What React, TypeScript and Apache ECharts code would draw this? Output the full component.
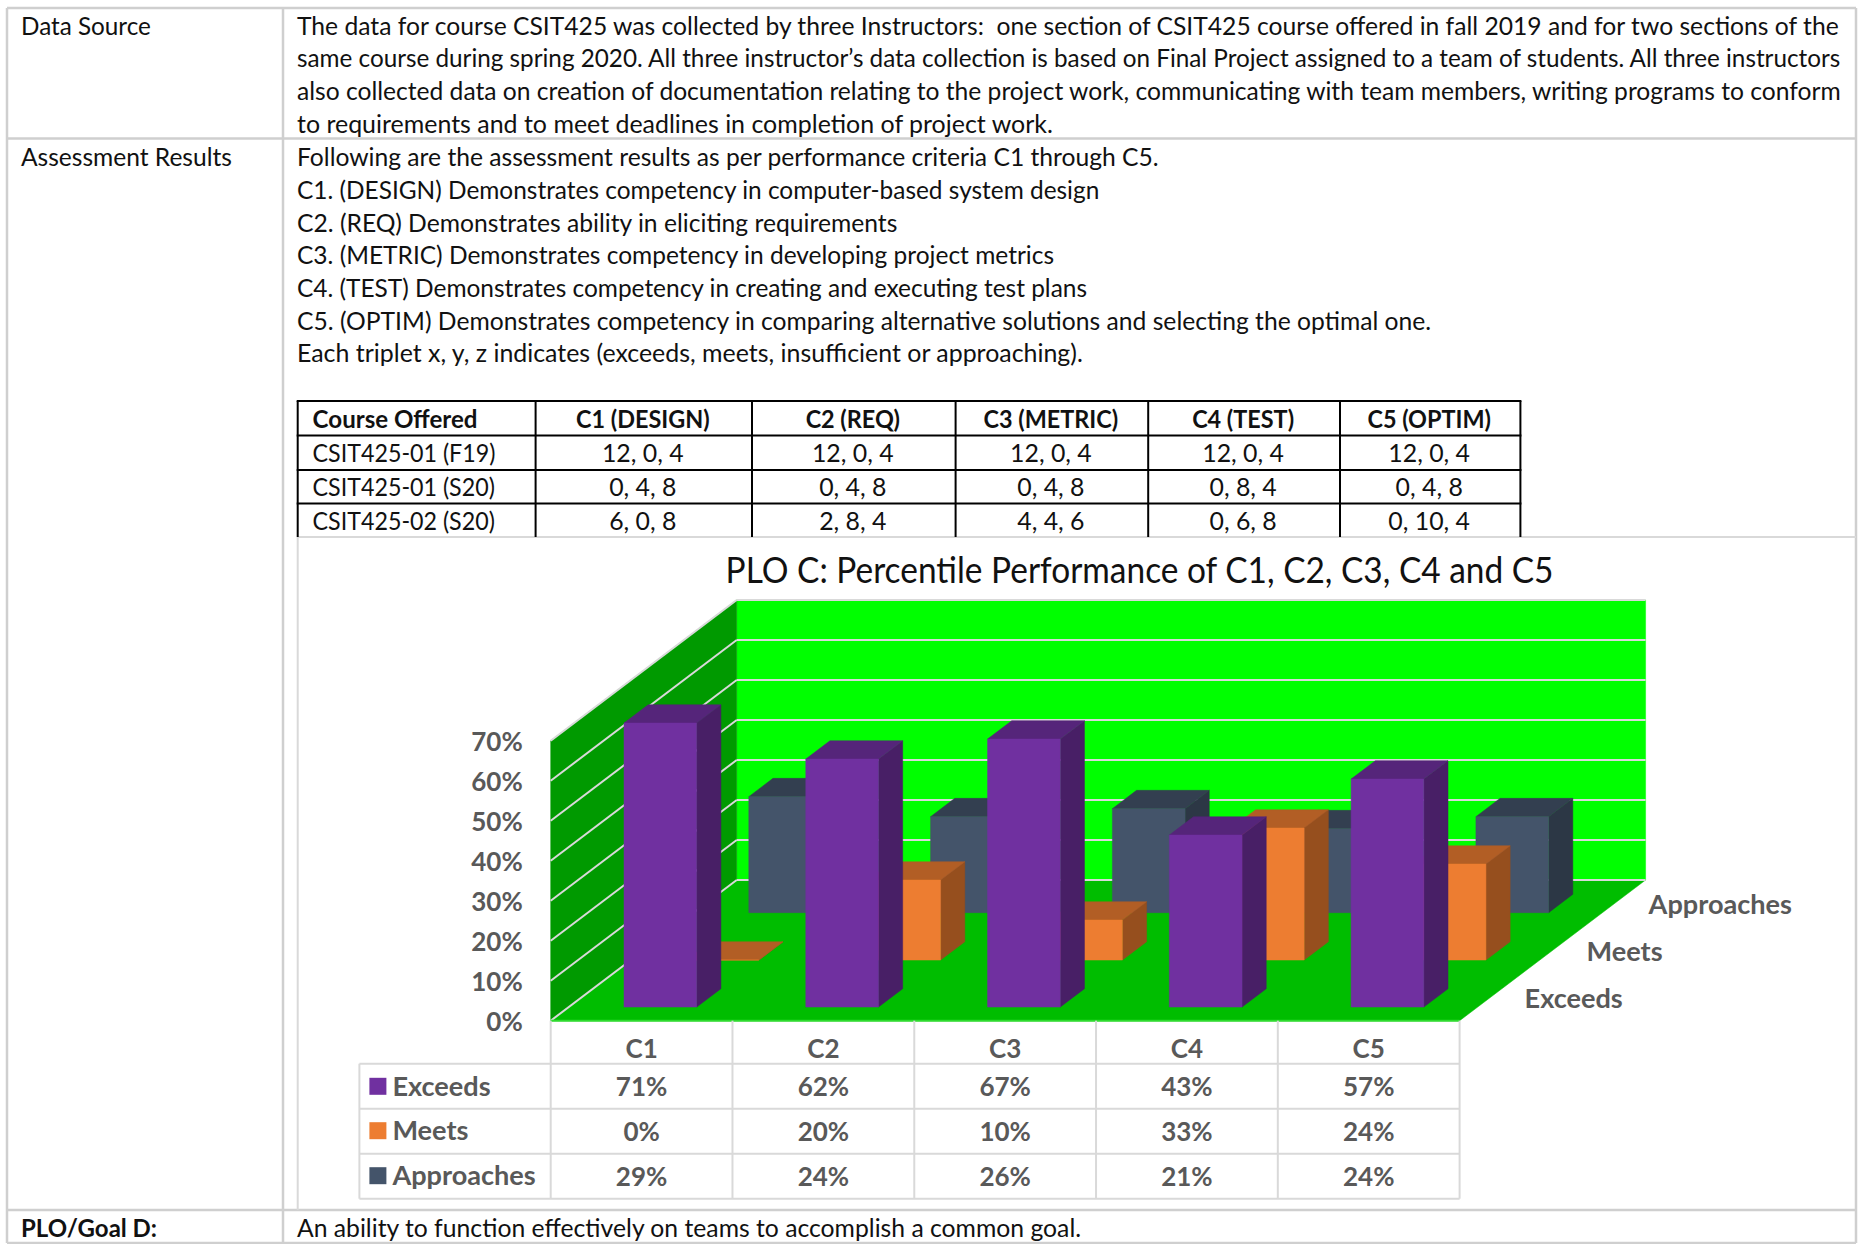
import React, { useEffect, useRef } from "react";
import * as echarts from "echarts";

// Document text around the chart
const dataSourceLabel = "Data Source";
const dataSourceLines = [
  "The data for course CSIT425 was collected by three Instructors:  one section of CSIT425 course offered in fall 2019 and for two sections of the",
  "same course during spring 2020. All three instructor\u2019s data collection is based on Final Project assigned to a team of students. All three instructors",
  "also collected data on creation of documentation relating to the project work, communicating with team members, writing programs to conform",
  "to requirements and to meet deadlines in completion of project work.",
];
const dataSourceLineEnds = [1843, 1843, 1843, 1054];
const resultsLabel = "Assessment Results";
const resultsLines = [
  "Following are the assessment results as per performance criteria C1 through C5.",
  "C1. (DESIGN) Demonstrates competency in computer-based system design",
  "C2. (REQ) Demonstrates ability in eliciting requirements",
  "C3. (METRIC) Demonstrates competency in developing project metrics",
  "C4. (TEST) Demonstrates competency in creating and executing test plans",
  "C5. (OPTIM) Demonstrates competency in comparing alternative solutions and selecting the optimal one.",
  "Each triplet x, y, z indicates (exceeds, meets, insufficient or approaching).",
];
const resultsLineEnds = [1160, 1100, 898, 1055, 1088, 1432, 1084];
const goalLabel = "PLO/Goal D:";
const goalText = "An ability to function effectively on teams to accomplish a common goal.";

// Course table
const courseHeader = ["Course Offered", "C1 (DESIGN)", "C2 (REQ)", "C3 (METRIC)", "C4 (TEST)", "C5 (OPTIM)"];
const courseF19 = ["CSIT425-01 (F19)", "12, 0, 4", "12, 0, 4", "12, 0, 4", "12, 0, 4", "12, 0, 4"];
const courseS20a = ["CSIT425-01 (S20)", "0, 4, 8", "0, 4, 8", "0, 4, 8", "0, 8, 4", "0, 4, 8"];
const courseS20b = ["CSIT425-02 (S20)", "6, 0, 8", "2, 8, 4", "4, 4, 6", "0, 6, 8", "0, 10, 4"];

// Chart data, in percent
const chartTitle = "PLO C: Percentile Performance of C1, C2, C3, C4 and C5";
const criteria = ["C1", "C2", "C3", "C4", "C5"];
const exceeds = [71, 62, 67, 43, 57];
const meets = [0, 20, 10, 33, 24];
const approaches = [29, 24, 26, 21, 24];
const yTicks = [0, 10, 20, 30, 40, 50, 60, 70];

const ratings = [
  { name: "Exceeds", values: exceeds, front: "#7030A0", top: "#55257A", side: "#481F66" },
  { name: "Meets", values: meets, front: "#ED7D31", top: "#B25E25", side: "#964F1E" },
  { name: "Approaches", values: approaches, front: "#44546A", top: "#333F50", side: "#2C3745" },
];

// Oblique projection of the 3-D box: how far the back wall sits from the front plane
const DEPTH_X = 186;
const DEPTH_Y = 140.7;
const BAR_START = 0.304;
const BAR_WIDTH = 0.4;
const BAR_DEPTH = 0.13;
const ROW_FRONT = [0.097, 0.431, 0.768];

const INK = "#111111";
const GRAY = "#595959";
const RULE = "#D9D9D9";
const BODY_FONT = "25px Lato";
const BOLD_FONT = "bold 25px Lato";
const CHART_FONT = "bold 26px Lato";
const TITLE_FONT = "36px Lato";

const measureCtx = document.createElement("canvas").getContext("2d")!;
function textWidth(text: string, font: string) {
  measureCtx.font = font;
  return measureCtx.measureText(text).width;
}

function textEl(
  text: string,
  x: number,
  y: number,
  font: string,
  fill: string,
  scaleX = 1,
  align = "left"
) {
  return {
    type: "text",
    x,
    y,
    scaleX,
    silent: true,
    style: { text, font, fill, align, verticalAlign: "middle", textAlign: align, textVerticalAlign: "middle" },
  };
}

function lineEl(x1: number, y1: number, x2: number, y2: number, stroke: string, lineWidth: number) {
  return { type: "line", silent: true, shape: { x1, y1, x2, y2 }, style: { stroke, lineWidth } };
}

function poly(points: number[][], fill: string) {
  return { type: "polygon", silent: true, shape: { points }, style: { fill, stroke: fill, lineWidth: 0.5 } };
}

function documentElements() {
  const els: any[] = [];
  const cellScale = (1083 - 297) / textWidth(resultsLines[6], BODY_FONT);
  const nameScale = 183 / textWidth(courseF19[0], BODY_FONT);
  const boldScale = 165 / textWidth(courseHeader[0], BOLD_FONT);
  const fit = (t: string, x0: number, x1: number, font = BODY_FONT) => (x1 - x0) / textWidth(t, font);

  // Outer form rules
  const border = "#CFCFCF";
  els.push(lineEl(7, 8, 1856, 8, border, 2.5));
  els.push(lineEl(7, 138.6, 1856, 138.6, border, 2.5));
  els.push(lineEl(7, 1210, 1856, 1210, border, 2.5));
  els.push(lineEl(7, 1243, 1856, 1243, border, 2.5));
  els.push(lineEl(7, 8, 7, 1243, border, 2.5));
  els.push(lineEl(283, 8, 283, 1243, border, 2.5));
  els.push(lineEl(1856, 8, 1856, 1243, border, 2.5));
  // Frame of the chart object
  els.push(lineEl(297.7, 537, 1856, 537, RULE, 2));
  els.push(lineEl(297.7, 537, 297.7, 1210, RULE, 2));

  els.push(textEl(dataSourceLabel, 21, 25, BODY_FONT, INK, fit(dataSourceLabel, 21, 151)));
  dataSourceLines.forEach((t, i) => {
    els.push(textEl(t, 297, 25 + i * 32.7, BODY_FONT, INK, fit(t, 297, dataSourceLineEnds[i])));
  });
  els.push(textEl(resultsLabel, 21, 156.4, BODY_FONT, INK, fit(resultsLabel, 21, 232)));
  resultsLines.forEach((t, i) => {
    els.push(textEl(t, 297, 156.4 + i * 32.7 - (i === 6 ? 0.6 : 0), BODY_FONT, INK, fit(t, 297, resultsLineEnds[i])));
  });

  // Course table
  const colX = [297.7, 535.6, 752, 955.6, 1148.2, 1340, 1520.4];
  const rowY = [401, 435.5, 470, 503.5];
  const tableBottom = 537;
  rowY.forEach((y) => els.push(lineEl(colX[0] - 1, y, colX[6] + 1, y, "#000000", 2)));
  colX.forEach((x) => els.push(lineEl(x, rowY[0], x, tableBottom, "#000000", 2)));
  [courseHeader, courseF19, courseS20a, courseS20b].forEach((row, r) => {
    const y = rowY[r] + (r === 0 ? 17 : 16.4);
    row.forEach((cell, c) => {
      const font = r === 0 ? BOLD_FONT : BODY_FONT;
      if (c === 0) els.push(textEl(cell, 312.6, y, font, INK, r === 0 ? boldScale : nameScale));
      else {
        const sc = r === 0 ? boldScale * 0.97 : cellScale;
        els.push(textEl(cell, (colX[c] + colX[c + 1]) / 2 - 1, y, font, INK, sc, "center"));
      }
    });
  });

  els.push(textEl(chartTitle, 725.6, 569, TITLE_FONT, INK, (1554 - 725.6) / textWidth(chartTitle, TITLE_FONT)));

  els.push(textEl(goalLabel, 21, 1227, BOLD_FONT, INK, fit(goalLabel, 21, 157, BOLD_FONT)));
  els.push(textEl(goalText, 297, 1227, BODY_FONT, INK, fit(goalText, 297, 1082)));
  return els;
}

// Plot box: the value scale lives on the front plane, the walls are offset by the depth vector
function plotBox(api: any) {
  const band = api.size([1, 0])[0];
  const left = api.coord([0, 0])[0] - band / 2;
  const right = api.coord([criteria.length - 1, 0])[0] + band / 2;
  const bottom = api.coord([0, yTicks[0]])[1];
  const top = api.coord([0, yTicks[yTicks.length - 1]])[1];
  return { band, left, right, bottom, top };
}

function renderBox(_: any, api: any) {
  const { left, right, bottom, top } = plotBox(api);
  const children: any[] = [
    poly([[left + DEPTH_X, top - DEPTH_Y], [right + DEPTH_X, top - DEPTH_Y], [right + DEPTH_X, bottom - DEPTH_Y], [left + DEPTH_X, bottom - DEPTH_Y]], "#00FF00"),
    poly([[left, top], [left + DEPTH_X, top - DEPTH_Y], [left + DEPTH_X, bottom - DEPTH_Y], [left, bottom]], "#009A00"),
    poly([[left, bottom], [right, bottom], [right + DEPTH_X, bottom - DEPTH_Y], [left + DEPTH_X, bottom - DEPTH_Y]], "#00BD00"),
  ];
  yTicks.forEach((t) => {
    const y = api.coord([0, t])[1];
    children.push(lineEl(left, y, left + DEPTH_X, y - DEPTH_Y, RULE, 2));
    children.push(lineEl(left + DEPTH_X, y - DEPTH_Y, right + DEPTH_X, y - DEPTH_Y, RULE, 2));
  });
  children.push(lineEl(left, bottom, right, bottom, "#2FDB2F", 2));
  return { type: "group", children };
}

function renderBar(ratingIndex: number) {
  return (_: any, api: any) => {
    const rating = ratings[ratingIndex];
    const band = api.size([1, 0])[0];
    const center = api.coord([api.value(0), 0])[0];
    const d = ROW_FRONT[ratingIndex];
    const zero = api.coord([api.value(0), 0])[1];
    const level = api.coord([api.value(0), api.value(1)])[1];
    const x0 = center - band / 2 + BAR_START * band + d * DEPTH_X;
    const x1 = x0 + BAR_WIDTH * band;
    const yb = zero - d * DEPTH_Y;
    const yt = level - d * DEPTH_Y;
    const dx = BAR_DEPTH * DEPTH_X;
    const dy = BAR_DEPTH * DEPTH_Y;
    return {
      type: "group",
      children: [
        poly([[x1, yb], [x1 + dx, yb - dy], [x1 + dx, yt - dy], [x1, yt]], rating.side),
        poly([[x0, yt], [x1, yt], [x1 + dx, yt - dy], [x0 + dx, yt - dy]], rating.top),
        poly([[x0, yb], [x1, yb], [x1, yt], [x0, yt]], rating.front),
      ],
    };
  };
}

// Data table under the plot, with a legend key in each row header
const ROW_LINES = [43, 88, 133, 178];
const ROW_CENTERS = [65.6, 110, 155];

function renderTableFrame(_: any, api: any) {
  const { band, left, right, bottom } = plotBox(api);
  const chartScale = 143.5 / textWidth("Approaches", CHART_FONT);
  const headerLeft = left - 191.3;
  const children: any[] = [];
  ROW_LINES.forEach((off) => children.push(lineEl(headerLeft, bottom + off, right, bottom + off, RULE, 2)));
  children.push(lineEl(headerLeft, bottom + ROW_LINES[0], headerLeft, bottom + ROW_LINES[3], RULE, 2));
  criteria.forEach((_c, i) => {
    children.push(lineEl(left + i * band, bottom, left + i * band, bottom + ROW_LINES[3], RULE, 2));
  });
  children.push(lineEl(right, bottom, right, bottom + ROW_LINES[3], RULE, 2));
  ratings.forEach((r, i) => {
    const y = bottom + ROW_CENTERS[i];
    children.push({
      type: "rect",
      silent: true,
      shape: { x: headerLeft + 10, y: y - 8.5, width: 17, height: 17 },
      style: { fill: r.front },
    });
    children.push(textEl(r.name, headerLeft + 33, y, CHART_FONT, GRAY, chartScale));
    // Depth axis labels beside the floor
    const depth = (i + 0.5) / ratings.length;
    children.push(
      textEl(r.name, right + depth * DEPTH_X + 34, bottom - depth * DEPTH_Y + 1, CHART_FONT, GRAY, chartScale)
    );
  });
  return { type: "group", children };
}

function renderTableCell(_: any, api: any) {
  const bottom = api.coord([0, 0])[1];
  const x = api.coord([api.value(0), 0])[0];
  return textEl(`${api.value(1)}%`, x, bottom + ROW_CENTERS[api.value(2)], CHART_FONT, GRAY, 1, "center");
}

function buildOption() {
  const single = [[0, 0]];
  const barSeries = [2, 1, 0].map((i) => ({
    type: "custom",
    name: ratings[i].name,
    coordinateSystem: "cartesian2d",
    renderItem: renderBar(i),
    encode: { x: 0, y: 1 },
    data: ratings[i].values.map((v, c) => [c, v]),
    z: 5 + (2 - i),
    silent: true,
  }));
  const cells: number[][] = [];
  ratings.forEach((r, row) => r.values.forEach((v, c) => cells.push([c, v, row])));

  return {
    animation: false,
    backgroundColor: "#FFFFFF",
    tooltip: { show: false },
    grid: { left: 550.7, top: 740.7, width: 908.9, height: 280, containLabel: false },
    xAxis: {
      type: "category",
      data: criteria,
      axisLine: { show: false },
      axisTick: { show: false },
      splitLine: { show: false },
      axisLabel: { color: GRAY, fontFamily: "Lato", fontWeight: "bold", fontSize: 26, margin: 14 },
    },
    yAxis: {
      type: "value",
      min: 0,
      max: yTicks[yTicks.length - 1],
      interval: 10,
      axisLine: { show: false },
      axisTick: { show: false },
      splitLine: { show: false },
      axisLabel: {
        color: GRAY,
        fontFamily: "Lato",
        fontWeight: "bold",
        fontSize: 26,
        margin: 28,
        formatter: (v: number) => `${v}%`,
      },
    },
    graphic: { elements: documentElements() },
    series: [
      {
        type: "custom",
        name: "box",
        coordinateSystem: "cartesian2d",
        renderItem: renderBox,
        encode: { x: 0, y: 1 },
        data: single,
        z: 1,
        silent: true,
      },
      ...barSeries,
      {
        type: "custom",
        name: "table frame",
        coordinateSystem: "cartesian2d",
        renderItem: renderTableFrame,
        encode: { x: 0, y: 1 },
        data: single,
        z: 10,
        silent: true,
      },
      {
        type: "custom",
        name: "table cells",
        coordinateSystem: "cartesian2d",
        renderItem: renderTableCell,
        encode: { x: 0, y: 1 },
        data: cells,
        z: 11,
        silent: true,
      },
    ],
  };
}

export default function App() {
  const ref = useRef<HTMLDivElement>(null);
  useEffect(() => {
    const chart = echarts.init(ref.current!, undefined, { renderer: "svg" });
    chart.setOption(buildOption() as any);
    return () => chart.dispose();
  }, []);
  return (
    <div
      ref={ref}
      style={{ position: "absolute", left: 0, top: 0, width: 1862, height: 1244 }}
    />
  );
}
